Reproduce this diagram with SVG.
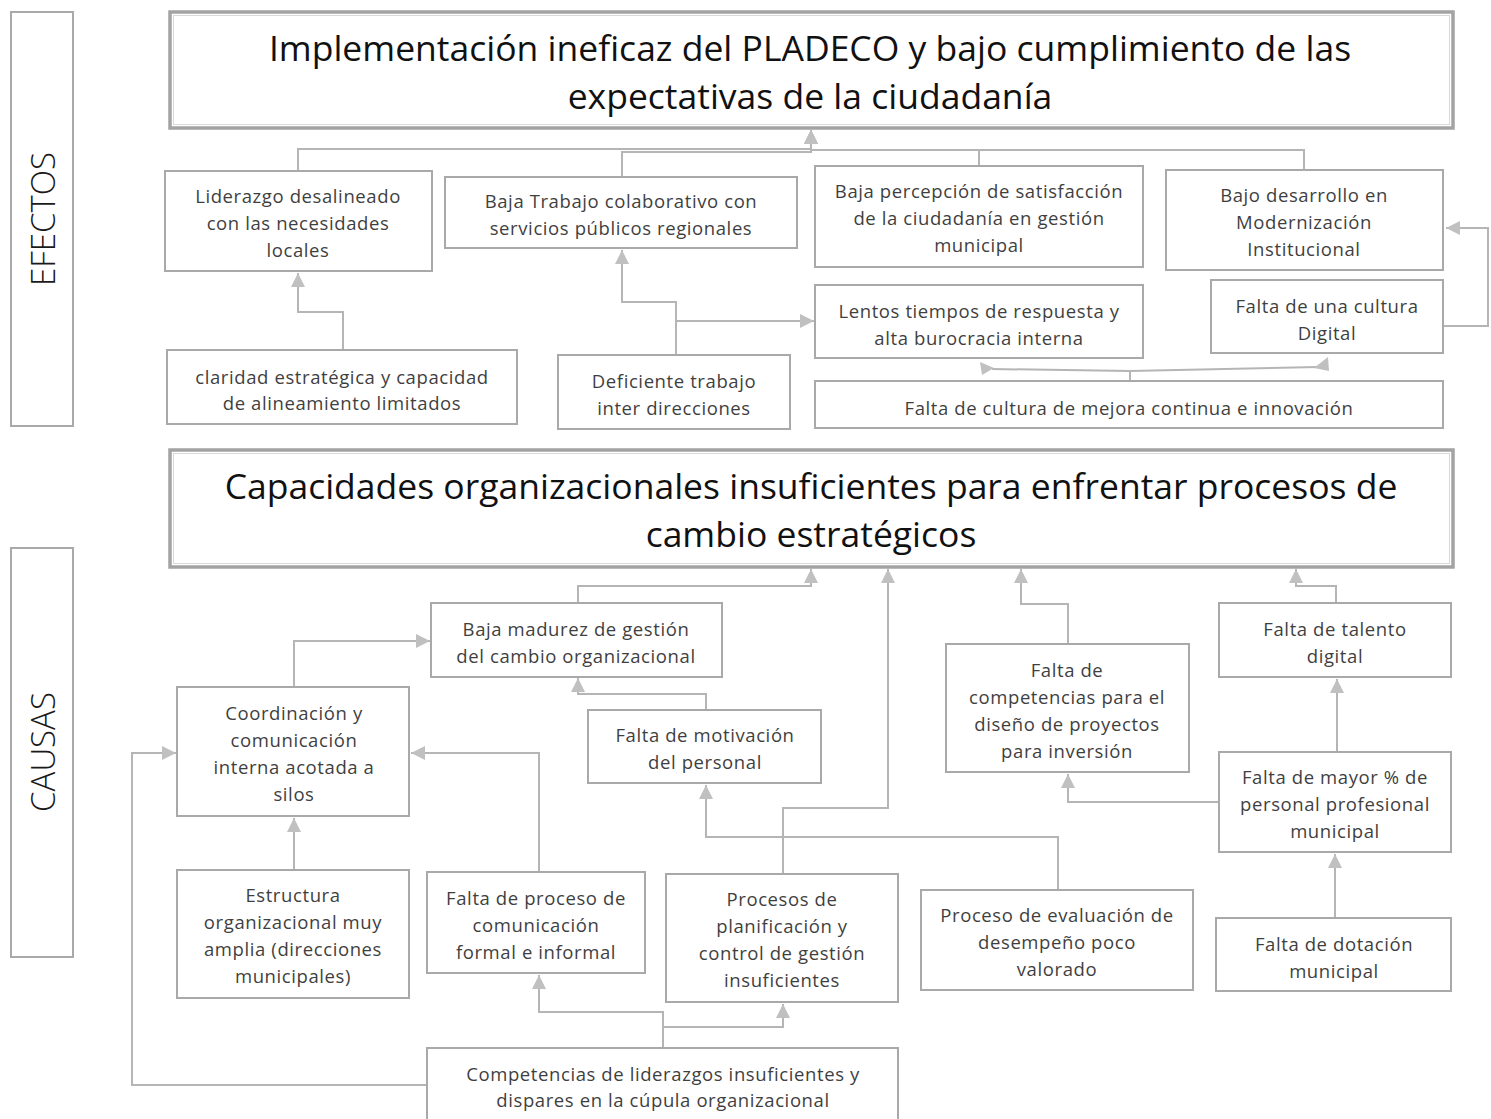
<svg xmlns="http://www.w3.org/2000/svg" width="1491" height="1119" viewBox="0 0 1491 1119">
<style>
.bx{fill:#fff;stroke:#a9a9a9;stroke-width:2}
.hd{fill:#fff;stroke:#a3a3a3;stroke-width:3.5}
.hdi{fill:none;stroke:#d9d9d9;stroke-width:1}
.t{font-family:"Open Sans","Noto Sans","Liberation Sans",sans-serif;font-size:18.5px;letter-spacing:0.6px;fill:#3f3f3f;text-anchor:middle;dominant-baseline:central}
.ht{font-family:"Open Sans","Noto Sans","Liberation Sans",sans-serif;font-size:35.5px;fill:#111;text-anchor:middle;dominant-baseline:central}
.st{font-family:"Open Sans","Noto Sans","Liberation Sans",sans-serif;font-size:33px;fill:#1a1a1a;text-anchor:middle;dominant-baseline:central;font-weight:300}
.c{fill:none;stroke:#b5b5b5;stroke-width:2}
.ah{fill:#c0c0c0}
</style>
<defs>
<marker id="a" viewBox="0 0 10 10" refX="10" refY="5" markerUnits="userSpaceOnUse" markerWidth="14" markerHeight="14" orient="auto">
<path d="M0,0 L10,5 L0,10 z" fill="#c0c0c0"/>
</marker>
</defs>
<rect width="1491" height="1119" fill="#fff"/>

<g id="lbl-efectos"><rect class="bx" x="11" y="12" width="62" height="414"/><text class="st" transform="translate(42,219) rotate(-90)">EFECTOS</text></g>
<g id="lbl-causas"><rect class="bx" x="11" y="548" width="62" height="409"/><text class="st" transform="translate(42,752) rotate(-90)">CAUSAS</text></g>

<g id="connectors">
<path class="c" d="M298,171 V149 H811 V130" marker-end="url(#a)"/>
<path class="c" d="M622,177 V152 H811 V130" marker-end="url(#a)"/>
<path class="c" d="M979,166 V150 H811 V130" marker-end="url(#a)"/>
<path class="c" d="M1304,170 V150 H811 V130" marker-end="url(#a)"/>
<path class="c" d="M343,350 V312 H298 V273" marker-end="url(#a)"/>
<path class="c" d="M676,355 V302 H622 V250" marker-end="url(#a)"/>
<path class="c" d="M676,321 H814" marker-end="url(#a)"/>
<path class="c" d="M1130,381 V371 L992,369"/>
<polygon class="ah" points="980,362 994,368 982,375"/>
<path class="c" d="M1130,371 L1318,367"/>
<polygon class="ah" points="1328,357 1329,371 1314,368"/>
<path class="c" d="M1443,326 H1488 V228 H1446" marker-end="url(#a)"/>

<path class="c" d="M578,603 V586 H811 V569" marker-end="url(#a)"/>
<path class="c" d="M783,874 V808 H888 V569" marker-end="url(#a)"/>
<path class="c" d="M1068,644 V604 H1021 V569" marker-end="url(#a)"/>
<path class="c" d="M1336,603 V586 H1296 V569" marker-end="url(#a)"/>
<path class="c" d="M294,687 V641 H430" marker-end="url(#a)"/>
<path class="c" d="M706,710 V694 H578 V678" marker-end="url(#a)"/>
<path class="c" d="M294,870 V818" marker-end="url(#a)"/>
<path class="c" d="M539,872 V753 H411" marker-end="url(#a)"/>
<path class="c" d="M427,1085 H132 V753 H176" marker-end="url(#a)"/>
<path class="c" d="M663,1048 V1012 H539 V975" marker-end="url(#a)"/>
<path class="c" d="M663,1027 H783 V1004" marker-end="url(#a)"/>
<path class="c" d="M1058,890 V837 H706 V785" marker-end="url(#a)"/>
<path class="c" d="M1219,802 H1068 V774" marker-end="url(#a)"/>
<path class="c" d="M1337,752 V679" marker-end="url(#a)"/>
<path class="c" d="M1335,918 V854" marker-end="url(#a)"/>
</g>

<g id="h-efecto"><rect class="hd" x="170" y="12" width="1283" height="116"/><rect class="hdi" x="173.5" y="15.5" width="1276" height="109"/>
<text class="ht" x="810" y="47">Implementación ineficaz del PLADECO y bajo cumplimiento de las</text>
<text class="ht" x="810" y="95">expectativas de la ciudadanía</text></g>

<g id="e-liderazgo"><rect class="bx" x="165" y="171" width="267" height="100"/>
<text class="t" x="298" y="195">Liderazgo desalineado</text><text class="t" x="298" y="222">con las necesidades</text><text class="t" x="298" y="249">locales</text></g>
<g id="e-baja-trabajo"><rect class="bx" x="445" y="177" width="352" height="71"/>
<text class="t" x="621" y="200">Baja Trabajo colaborativo con</text><text class="t" x="621" y="227">servicios públicos regionales</text></g>
<g id="e-percepcion"><rect class="bx" x="815" y="166" width="328" height="101"/>
<text class="t" x="979" y="190">Baja percepción de satisfacción</text><text class="t" x="979" y="217">de la ciudadanía en gestión</text><text class="t" x="979" y="244">municipal</text></g>
<g id="e-modernizacion"><rect class="bx" x="1166" y="170" width="277" height="100"/>
<text class="t" x="1304" y="194">Bajo desarrollo en</text><text class="t" x="1304" y="221">Modernización</text><text class="t" x="1304" y="248">Institucional</text></g>
<g id="e-lentos"><rect class="bx" x="815" y="285" width="328" height="73"/>
<text class="t" x="979" y="310">Lentos tiempos de respuesta y</text><text class="t" x="979" y="337">alta burocracia interna</text></g>
<g id="e-cultura-digital"><rect class="bx" x="1211" y="280" width="232" height="73"/>
<text class="t" x="1327" y="305">Falta de una cultura</text><text class="t" x="1327" y="332">Digital</text></g>
<g id="e-mejora"><rect class="bx" x="815" y="381" width="628" height="47"/>
<text class="t" x="1129" y="407">Falta de cultura de mejora continua e innovación</text></g>
<g id="e-claridad"><rect class="bx" x="167" y="350" width="350" height="74"/>
<text class="t" x="342" y="376">claridad estratégica y capacidad</text><text class="t" x="342" y="402">de alineamiento limitados</text></g>
<g id="e-deficiente"><rect class="bx" x="558" y="355" width="232" height="74"/>
<text class="t" x="674" y="380">Deficiente trabajo</text><text class="t" x="674" y="407">inter direcciones</text></g>

<g id="h-causa"><rect class="hd" x="170" y="450" width="1283" height="117"/><rect class="hdi" x="173.5" y="453.5" width="1276" height="110"/>
<text class="ht" x="811" y="485">Capacidades organizacionales insuficientes para enfrentar procesos de</text>
<text class="ht" x="811" y="533">cambio estratégicos</text></g>

<g id="c-madurez"><rect class="bx" x="431" y="603" width="291" height="74"/>
<text class="t" x="576" y="628">Baja madurez de gestión</text><text class="t" x="576" y="655">del cambio organizacional</text></g>
<g id="c-coordinacion"><rect class="bx" x="177" y="687" width="232" height="129"/>
<text class="t" x="294" y="712">Coordinación y</text><text class="t" x="294" y="739">comunicación</text><text class="t" x="294" y="766">interna acotada a</text><text class="t" x="294" y="793">silos</text></g>
<g id="c-motivacion"><rect class="bx" x="588" y="710" width="233" height="73"/>
<text class="t" x="705" y="734">Falta de motivación</text><text class="t" x="705" y="761">del personal</text></g>
<g id="c-competencias"><rect class="bx" x="946" y="644" width="243" height="128"/>
<text class="t" x="1067" y="669">Falta de</text><text class="t" x="1067" y="696">competencias para el</text><text class="t" x="1067" y="723">diseño de proyectos</text><text class="t" x="1067" y="750">para inversión</text></g>
<g id="c-talento"><rect class="bx" x="1219" y="603" width="232" height="74"/>
<text class="t" x="1335" y="628">Falta de talento</text><text class="t" x="1335" y="655">digital</text></g>
<g id="c-mayor"><rect class="bx" x="1219" y="752" width="232" height="100"/>
<text class="t" x="1335" y="776">Falta de mayor % de</text><text class="t" x="1335" y="803">personal profesional</text><text class="t" x="1335" y="830">municipal</text></g>
<g id="c-estructura"><rect class="bx" x="177" y="870" width="232" height="128"/>
<text class="t" x="293" y="894">Estructura</text><text class="t" x="293" y="921">organizacional muy</text><text class="t" x="293" y="948">amplia (direcciones</text><text class="t" x="293" y="975">municipales)</text></g>
<g id="c-comunicacion"><rect class="bx" x="427" y="872" width="218" height="101"/>
<text class="t" x="536" y="897">Falta de proceso de</text><text class="t" x="536" y="924">comunicación</text><text class="t" x="536" y="951">formal e informal</text></g>
<g id="c-planificacion"><rect class="bx" x="666" y="874" width="232" height="128"/>
<text class="t" x="782" y="898">Procesos de</text><text class="t" x="782" y="925">planificación y</text><text class="t" x="782" y="952">control de gestión</text><text class="t" x="782" y="979">insuficientes</text></g>
<g id="c-evaluacion"><rect class="bx" x="921" y="890" width="272" height="100"/>
<text class="t" x="1057" y="914">Proceso de evaluación de</text><text class="t" x="1057" y="941">desempeño poco</text><text class="t" x="1057" y="968">valorado</text></g>
<g id="c-dotacion"><rect class="bx" x="1216" y="918" width="235" height="73"/>
<text class="t" x="1334" y="943">Falta de dotación</text><text class="t" x="1334" y="970">municipal</text></g>
<g id="c-liderazgos"><rect class="bx" x="427" y="1048" width="471" height="80"/>
<text class="t" x="663" y="1073">Competencias de liderazgos insuficientes y</text><text class="t" x="663" y="1099">dispares en la cúpula organizacional</text></g>
</svg>
